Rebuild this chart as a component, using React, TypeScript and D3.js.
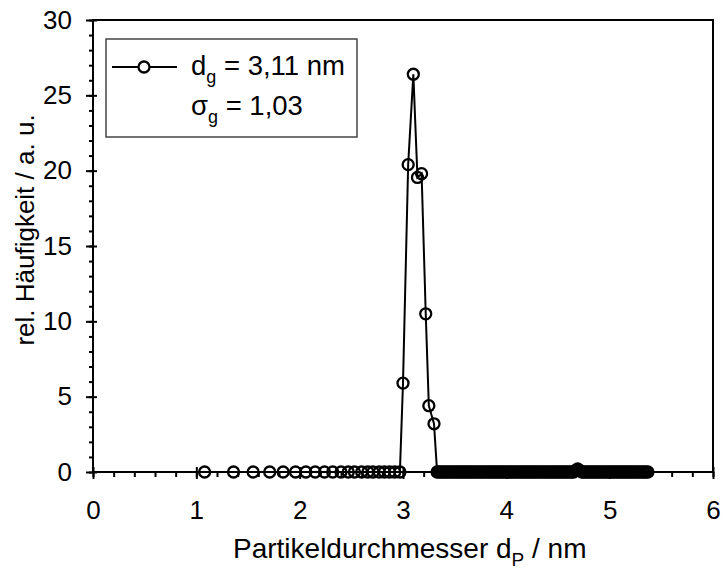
import React, { useRef, useEffect } from 'react'
import * as d3 from 'd3'

// particle diameters in nm
const diameters = [
  1.08, 1.36, 1.55, 1.71, 1.84, 1.96, 2.06, 2.15, 2.24, 2.32, 2.40, 2.47, 2.53, 2.60, 2.66, 2.71,
  2.77, 2.82, 2.87, 2.92, 2.97,
  3.00, 3.05, 3.10, 3.14, 3.18, 3.22, 3.25, 3.30,
  3.33, 3.35, 3.37, 3.39, 3.41, 3.43, 3.45, 3.47, 3.49, 3.51,
  3.53, 3.55, 3.57, 3.59, 3.61, 3.63, 3.65, 3.67, 3.69, 3.71,
  3.73, 3.75, 3.77, 3.79, 3.81, 3.83, 3.85, 3.87, 3.89, 3.91,
  3.93, 3.95, 3.97, 3.99, 4.01, 4.03, 4.05, 4.07, 4.09, 4.11,
  4.13, 4.15, 4.17, 4.19, 4.21, 4.23, 4.25, 4.27, 4.29, 4.31,
  4.33, 4.35, 4.37, 4.39, 4.41, 4.43, 4.45, 4.47, 4.49, 4.51,
  4.53, 4.55, 4.57, 4.59, 4.61, 4.63, 4.65, 4.67, 4.69, 4.71,
  4.73, 4.75, 4.77, 4.79, 4.81, 4.83, 4.85, 4.87, 4.89, 4.91,
  4.93, 4.95, 4.97, 4.99, 5.01, 5.03, 5.05, 5.07, 5.09, 5.11,
  5.13, 5.15, 5.17, 5.19, 5.21, 5.23, 5.25, 5.27, 5.29, 5.31,
  5.33, 5.35, 5.37,
]

// relative frequency, a.u.
const frequency = [
  0, 0, 0, 0, 0, 0, 0, 0, 0, 0, 0, 0, 0, 0, 0, 0,
  0, 0, 0, 0, 0,
  5.9, 20.4, 26.4, 19.55, 19.8, 10.5, 4.4, 3.2,
  0, 0, 0, 0, 0, 0, 0, 0, 0, 0,
  0, 0, 0, 0, 0, 0, 0, 0, 0, 0,
  0, 0, 0, 0, 0, 0, 0, 0, 0, 0,
  0, 0, 0, 0, 0, 0, 0, 0, 0, 0,
  0, 0, 0, 0, 0, 0, 0, 0, 0, 0,
  0, 0, 0, 0, 0, 0, 0, 0, 0, 0,
  0, 0, 0, 0, 0, 0, 0, 0.1, 0.2, 0.1,
  0, 0, 0, 0, 0, 0, 0, 0, 0, 0,
  0, 0, 0, 0, 0, 0, 0, 0, 0, 0,
  0, 0, 0, 0, 0, 0, 0, 0, 0, 0,
  0, 0, 0,
]

const xTicks = [0, 1, 2, 3, 4, 5, 6]
const yTicks = [0, 5, 10, 15, 20, 25, 30]
const legendRows = [
  { sym: 'd', sub: 'g', text: ' = 3,11 nm' },
  { sym: 'σ', sub: 'g', text: ' = 1,03' },
]

const W = 723
const H = 570
const left = 93
const right = 713
const top = 20
const bottom = 472
const font = '"Liberation Sans", Arial, sans-serif'

const App = () => {
  const svgRef = useRef<SVGSVGElement>(null)

  useEffect(() => {
    const svg = d3.select(svgRef.current)
    svg.selectAll('*').remove()

    const x = d3.scaleLinear().domain([0, 6]).range([left, right])
    const y = d3.scaleLinear().domain([0, 30]).range([bottom, top])

    const style = (g: any) => {
      g.select('.domain').remove()
      g.selectAll('line').attr('stroke', '#000').attr('stroke-width', 2)
      g.selectAll('text').attr('font-family', font).attr('font-size', 26).attr('fill', '#000')
    }

    // frame
    svg.append('rect')
      .attr('x', left).attr('y', top)
      .attr('width', right - left).attr('height', bottom - top)
      .attr('fill', 'none').attr('stroke', '#000').attr('stroke-width', 2)

    // x axis
    svg.append('g').attr('transform', `translate(0,${bottom})`)
      .call(d3.axisBottom(x).tickValues(d3.range(0, 6.01, 0.2)).tickSize(5).tickFormat(() => ''))
      .call(style)
    svg.append('g').attr('transform', `translate(0,${bottom})`)
      .call(d3.axisBottom(x).tickValues(xTicks).tickSize(7).tickPadding(22).tickFormat(d3.format('d')))
      .call(style)
    svg.append('g').attr('transform', `translate(0,${bottom})`)
      .call(d3.axisTop(x).tickValues(xTicks).tickSize(5).tickFormat(() => ''))
      .call(style)

    // y axis
    svg.append('g').attr('transform', `translate(${left},0)`)
      .call(d3.axisLeft(y).tickValues(d3.range(0, 30.01, 1)).tickSize(4).tickFormat(() => ''))
      .call(style)
    svg.append('g').attr('transform', `translate(${left},0)`)
      .call(d3.axisLeft(y).tickValues(yTicks).tickSize(7).tickPadding(14).tickFormat(d3.format('d')))
      .call(style)
    svg.append('g').attr('transform', `translate(${left},0)`)
      .call(d3.axisRight(y).tickValues(yTicks).tickSize(4).tickFormat(() => ''))
      .call(style)

    // labels
    const xl = svg.append('text')
      .attr('x', 233).attr('y', 558)
      .attr('font-family', font).attr('font-size', 28)
    xl.append('tspan').text('Partikeldurchmesser d')
    xl.append('tspan').attr('font-size', 19).attr('dy', 8).text('P')
    xl.append('tspan').attr('dy', -8).text(' / nm')

    svg.append('text')
      .attr('transform', `translate(34,230) rotate(-90)`)
      .attr('text-anchor', 'middle')
      .attr('font-family', font).attr('font-size', 26)
      .text('rel. Häufigkeit / a. u.')

    // series
    const pts = diameters.map((d, i) => ({ d, f: frequency[i] }))
    const line = d3.line<{ d: number; f: number }>().x(p => x(p.d)).y(p => y(p.f))
    svg.append('path')
      .attr('d', line(pts))
      .attr('fill', 'none').attr('stroke', '#000').attr('stroke-width', 2)

    svg.append('g')
      .selectAll('circle')
      .data(pts)
      .join('circle')
      .attr('cx', p => x(p.d))
      .attr('cy', p => y(p.f))
      .attr('r', 5.5)
      .attr('fill', 'none')
      .attr('stroke', '#000')
      .attr('stroke-width', 2.3)

    // legend
    const lg = svg.append('g')
    lg.append('rect')
      .attr('x', 106).attr('y', 39).attr('width', 251).attr('height', 98)
      .attr('fill', '#fff').attr('stroke', '#444').attr('stroke-width', 1.5)
    lg.append('line')
      .attr('x1', 112).attr('x2', 177).attr('y1', 67).attr('y2', 67)
      .attr('stroke', '#000').attr('stroke-width', 2)
    lg.append('circle')
      .attr('cx', 144).attr('cy', 67).attr('r', 5.5)
      .attr('fill', '#fff').attr('stroke', '#000').attr('stroke-width', 2.3)
    legendRows.forEach((row, i) => {
      const t = lg.append('text')
        .attr('x', 191).attr('y', 75 + i * 40)
        .attr('font-family', font).attr('font-size', 27.5)
      t.append('tspan').text(row.sym)
      t.append('tspan').attr('font-size', 18).attr('dy', 8).text(row.sub)
      t.append('tspan').attr('dy', -8).text(row.text)
    })
  }, [])

  return (
    <div className="container">
      <svg ref={svgRef} width={W} height={H} style={{ position: 'absolute', left: 0, top: 0 }} />
    </div>
  )
}

export default App
